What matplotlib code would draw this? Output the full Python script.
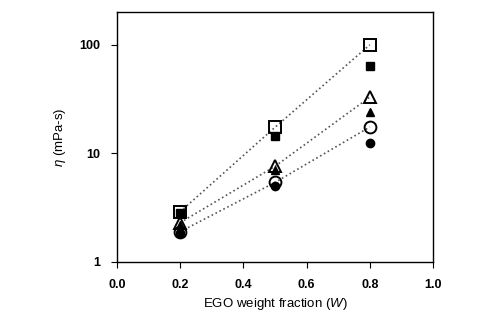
import matplotlib.pyplot as plt
from matplotlib.ticker import FixedLocator, NullLocator

plt.rcParams["font.family"] = ["Liberation Sans", "DejaVu Sans"]
plt.rcParams["mathtext.fontset"] = "custom"
plt.rcParams["mathtext.it"] = "Liberation Sans:italic"
plt.rcParams["mathtext.rm"] = "Liberation Sans"

w = [0.2, 0.5, 0.8]
sq_open = [2.9, 17.4, 100.0]
sq_fill = [2.8, 14.6, 64.0]
tri_open = [2.3, 7.6, 33.0]
tri_fill = [2.2, 7.1, 24.0]
circ_open = [1.9, 5.4, 17.5]
circ_fill = [1.85, 5.0, 12.4]

x_ticks = [0.0, 0.2, 0.4, 0.6, 0.8, 1.0]
y_ticks = [1, 10, 100]


def main() -> None:
    fig = plt.figure(figsize=(5.01, 3.27), dpi=100)
    ax = fig.add_axes([0.2335, 0.199, 0.631, 0.764])

    # filled markers, no lines
    ax.plot(w, sq_fill, "s", ms=6, color="black", mec="black", zorder=3)
    ax.plot(w, tri_fill, "^", ms=6, color="black", mec="black", zorder=3)
    ax.plot(w, circ_fill, "o", ms=6, color="black", mec="black", zorder=3)

    # open markers joined by dotted lines
    for vals, m in [(sq_open, "s"), (tri_open, "^"), (circ_open, "o")]:
        ax.plot(w, vals, ":", color="#555555", lw=1.2, zorder=2)
        ax.plot(w, vals, m, ms=8.5, mfc="none", mec="black", mew=1.4, zorder=4)

    ax.set_yscale("log")
    ax.set_xlim(0.0, 1.0)
    ax.set_ylim(1, 200)
    ax.xaxis.set_major_locator(FixedLocator(x_ticks))
    ax.yaxis.set_major_locator(FixedLocator(y_ticks))
    ax.yaxis.set_minor_locator(NullLocator())
    ax.set_xticklabels([f"{t:.1f}" for t in x_ticks], fontweight="bold")
    ax.set_yticklabels([str(t) for t in y_ticks], fontweight="bold")
    ax.tick_params(axis="both", direction="out", length=4, width=0.8,
                   labelsize=9, pad=8)
    ax.tick_params(axis="x", pad=8)

    for s in ax.spines.values():
        s.set_linewidth(1.0)

    ax.set_xlabel("EGO weight fraction ($\\mathit{W}$)", fontsize=9.5, labelpad=4)
    ax.set_ylabel("$\\mathit{\\eta}$ (mPa-s)", fontsize=9.5, labelpad=8)

    fig.savefig("out.png", dpi=100)


if __name__ == "__main__":
    main()
